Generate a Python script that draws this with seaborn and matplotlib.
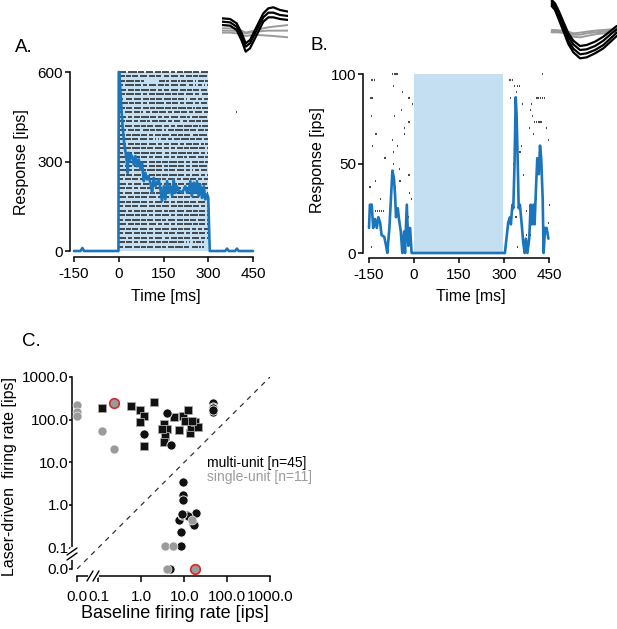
import matplotlib
matplotlib.use("Agg")
import matplotlib.pyplot as plt
from matplotlib.lines import Line2D
from matplotlib.ticker import NullLocator
import pandas as pd
import seaborn as sns

# ---------------- data ----------------
# Panel A: laser-driven unit, PSTH (ips) vs time (ms)
a_time = [-150, -128, -122, -116, -1, 0, 2, 6, 10, 13, 18, 23, 27, 30, 33, 36, 39, 45, 50, 56,
          61, 67, 73, 78, 84, 89, 95, 100, 106, 112, 117, 123, 128, 134, 140, 145, 151, 156, 162, 168,
          173, 179, 184, 190, 195, 201, 206, 212, 218, 223, 229, 234, 240, 245, 251, 257, 262, 268, 273, 279,
          285, 290, 296, 300, 305, 357, 363, 369, 390, 396, 402, 450]
a_rate = [0, 0, 10, 0, 0, 600, 600, 529, 460, 417, 362, 330, 300, 262, 329, 300, 323, 318, 290, 318,
          284, 307, 273, 295, 234, 262, 240, 251, 229, 195, 245, 217, 229, 240, 206, 167, 217, 173, 234, 195,
          217, 184, 240, 195, 217, 201, 201, 195, 206, 217, 195, 201, 234, 184, 229, 195, 234, 184, 223, 178,
          217, 173, 190, 180, 0, 0, 8, 0, 0, 8, 0, 0]
# raster of panel A: one string per trial, one character per 5 ms bin from 0 to 300 ms
a_raster = [
    "#####.######.####.#####.####.#####.###.####.#####.####.#####",
    "####.###.####.#####.####.###..####.#####.###.####.###.#####.",
    "####.#####.###.##..........####.##.####.#.###.####.#.####.##",
    "###.######.####.###.#####.####.###.#####.####..###.#.###.#.#",
    "#####.####.###.#####.####.###.####.#####.####.###.####.####.",
    "####.#####.####.###.####.#####.####.###.####.#####.###..####",
    "###..####.#####.####.###.####.#####.###.####.#..####.###.###",
    "######.###.####.###.####.#####..###.####.###.#####.###.####.",
    "####.####.#####.####.###.#####.####.###.#####.###.#.###.####",
    "###.#####.####.#..###.####.#####.###.####.####.###.#####.###",
    "#####.###.####.#####.####.###.####.#####.####.##.####.#####.",
    "####.####.###.####.##.####.#####.###.####..###.####.###.####",
    "###.#####.####.###.####.#####.####.###.####.#####.###.#.####",
    "#####.####.###..####.###.####.##.####.#####.###.####.####.##",
    "####.###.#####.####.###.####.#####.####.###.####..###.#####.",
    "###.####.####.#####.###.#.#.####.###.####.#####.###.####.###",
    "#####.####.###.####.#####.###.####.#####.###.####.####.##.##",
    "####.###.#####.###.####.#####.####.###.####.###.#####.####.#",
    "###.#####.####.#####.###.####..###.####.#####.###.####.###.#",
    "#####.###.####.####.###.#####.####.###.####.##.#####.####.##",
    "####.####.###.#####.####.###.####.#####.####.###.####.###.##",
    "###.#####.####..###.####.####.###.#####.####.###.####.#####.",
    "#####.###.####.###.#####.####.###.####.#####.###.#.###.####.",
    "####.####.#####.###.####.###.####.#####.####.###.#####.###.#",
    "###.####.####.###.#####.####.###.#####.###.####.####.###.###",
    "#####.###.#####.####.###.####.#####.###.####.#####.####.###.",
    "####.####.###.####.####.#####.###.####.###.#####.###.####.##",
    "###.#####.####.#####.###.####.####.###.#####.####.###.####.#",
    "#####.####.###.####.#####.###.####.####.###.####.#####.###.#",
    "####.###.#####.####.###.#####.####.###.####.###.####.#####.#",
    "###.####.####.#####.####.###.#####.####.###.#####.####.###.#",
    "#####.###.####.###.####.#####.###.####.#####.####.###.####.#",
    "####.#####.###.####.###.####.#####.###.####.###.#####.####.#",
    "###.####.#####.###.####.####.###.#####.####.###.####.#####.#",
    "#####.####.###.####.#####.###.####.###.####.#####.###.####.#",
    "####.###.####.#####.###.####.#####.####.###.####.###.###.###",
    "###.#####.####.###.####.#####.###.####.#####.###.####.####.#",
    "#####.###.####.####.###.#####..###.####.###.####.#####.###.#",
    "####.####.###.#####.####.###.####.#####.####.#.#..#.###.#...",
    "###.#####.####.###.####.####.###.####.#####.###..####.#.#...",
]
a_extra_spike_time = [-120, 363, 396]
a_extra_spike_trial = [27, 13, 9]

# Panel B: laser-suppressed unit
b_time = [-150, -147, -141, -136, -130, -124, -119, -113, -108, -99, -93, -89, -82, -77, -72, -67,
          -63, -60, -54, -50, -44, -39, -33, -30, -24, -19, -13, -8, -4, 0, 100, 200,
          303, 314, 320, 323, 328, 331, 335, 339, 342, 346, 349, 353, 359, 364, 369, 373,
          378, 384, 389, 393, 398, 402, 407, 411, 416, 420, 424, 429, 432, 437, 442, 448]
b_rate = [14, 27, 27, 14, 19, 14, 20, 17, 10, 9, 4, 0, 14, 30, 46, 42,
          32, 20, 25, 19, 12, 0, 12, 0, 27, 4, 14, 0, 0, 0, 0, 0,
          0, 17, 20, 16, 27, 25, 49, 87, 77, 49, 25, 27, 16, 6, 0, 8,
          0, 8, 27, 16, 27, 16, 38, 53, 44, 60, 53, 30, 0, 14, 14, 8]
b_spike_time = [-72, -66, -60, -54, 428,
                -143, -138, -133, 320, 328,
                -69, 336, 344, 352,
                -39, 342,
                -144, -140, -17, 322, 410, 416, 422, 428, 434,
                -4, 361, 392,
                -43, 389,
                -143, -66, 396,
                -17, 402, 408, 414, 420, 426,
                -32, 384, 442,
                -127, -32, 398,
                -72, 448,
                -139, -54, 357,
                -69, 353,
                -97, 418,
                -69, 331,
                -49,
                -17, 364,
                -128, -47,
                -147, -63, 331,
                -16,
                -113, -8, 409,
                451,
                -128, -122, -116, -108, -102, 376, 431,
                -19, 340,
                448,
                -30, 376, 387,
                -143, 346]
b_spike_trial = [0, 0, 0, 0, 0,
                 1, 1, 1, 1, 1,
                 2, 2, 2, 2,
                 3, 3,
                 4, 4, 4, 4, 4, 4, 4, 4, 4,
                 5, 5, 5,
                 6, 6,
                 7, 7, 7,
                 8, 8, 8, 8, 8, 8,
                 9, 9, 9,
                 10, 10, 10,
                 11, 11,
                 12, 12, 12,
                 13, 13,
                 14, 14,
                 15, 15,
                 16,
                 17, 17,
                 18, 18,
                 19, 19, 19,
                 20,
                 21, 21, 21,
                 22,
                 23, 23, 23, 23, 23, 23, 23,
                 24, 24,
                 25,
                 27, 27, 27,
                 29, 29]

# Panel C: baseline vs laser-driven firing rate (ips); 0.0 values sit on the broken-axis tick
c_sq_base = [0.12, 0.58, 0.95, 1.17, 0.95, 1.93, 1.17, 3.3, 4.0, 3.5, 3.3, 5.8, 7.4, 9.3, 12.2,
             13.3, 14.5, 17.4, 20.4, 3.1, 10.5, 15.5]
c_sq_laser = [183, 213, 167, 119, 88, 262, 24, 80, 59, 42, 30, 113, 57, 124, 168,
              50, 69, 87, 69, 60, 95, 95]
c_ci_base = [1.17, 4.0, 4.9, 48, 48, 48, 48, 9.6, 9.3, 9.3, 7.4, 8.8, 11.5, 13.3, 18.7, 16,
             8.5, 8.5, 4.7, 12.5, 16.5, 9.0, 46]
c_ci_laser = [45, 140, 25, 240, 200, 185, 155, 3.5, 1.7, 1.3, 0.45, 0.58, 0.58, 0.53, 0.66, 0.36,
              0.23, 0.11, 0.0, 0.55, 0.34, 0.6, 170]
c_su_base = [0.0, 0.0, 0.0, 0.12, 0.23, 0.23, 3.5, 5.6, 4.0, 15, 18]
c_su_laser = [215, 150, 120, 55, 20, 245, 0.11, 0.11, 0.0, 0.45, 0.0]
c_su_marked = [0, 0, 0, 0, 0, 1, 0, 0, 0, 0, 1]
c_ticks = [0.0, 0.1, 1.0, 10.0, 100.0, 1000.0]
c_ticklabels = ["0.0", "0.1", "1.0", "10.0", "100.0", "1000.0"]

# spike waveform insets (arbitrary units, y downward)
wa_t = [665, 690, 710, 725, 737, 750, 770, 790, 805, 820, 840, 865]
wa_black = [[55, 57, 70, 100, 130, 120, 80, 40, 25, 22, 30, 35],
            [65, 67, 80, 110, 140, 130, 90, 52, 38, 38, 45, 48],
            [75, 77, 90, 122, 155, 145, 105, 65, 52, 52, 57, 60]]
wa_gray = [[85, 85, 87, 92, 98, 95, 90, 85, 82, 80, 78, 75],
           [92, 92, 93, 96, 100, 98, 95, 93, 92, 92, 92, 92],
           [98, 98, 100, 104, 108, 106, 105, 106, 107, 108, 110, 112]]
wb_t = [755, 765, 775, 790, 805, 820, 840, 860, 885, 910, 935, 950]
wb_black = [[0, 10, 30, 65, 100, 122, 138, 135, 125, 110, 90, 78],
            [5, 18, 40, 75, 110, 133, 150, 148, 138, 122, 100, 88],
            [12, 25, 48, 85, 122, 146, 163, 160, 150, 135, 112, 98],
            [18, 30, 55, 93, 132, 157, 175, 172, 160, 145, 122, 108]]
wb_gray = [[90, 90, 91, 92, 95, 100, 98, 95, 92, 90, 88, 85],
           [97, 97, 97, 98, 100, 104, 104, 100, 97, 95, 92, 90],
           [95, 95, 96, 98, 103, 110, 112, 108, 103, 100, 97, 95]]

# ---------------- style ----------------
sns.set_theme(style="ticks", rc={
    "axes.edgecolor": "black", "xtick.color": "black", "ytick.color": "black",
    "text.color": "black", "axes.labelcolor": "black", "axes.unicode_minus": False,
})
plt.rcParams['font.family'] = ['Liberation Sans', 'DejaVu Sans']

W, H = 617, 629
fig = plt.figure(figsize=(W / 100, H / 100), dpi=100)
BLUE = '#1b75bb'
SHADE = '#c4dff1'
GRAY = '#9b9b9b'


def px_axes(l, t, r, b):
    return fig.add_axes([l / W, 1 - b / H, (r - l) / W, (b - t) / H])


def ftext(x, y, s, **kw):
    fig.text(x / W, 1 - y / H, s, **kw)


def fline(x0, y0, x1, y1, **kw):
    fig.add_artist(Line2D([x0 / W, x1 / W], [1 - y0 / H, 1 - y1 / H],
                          transform=fig.transFigure, **kw))


def style_axes(ax, off_left, off_bottom):
    sns.despine(ax=ax)
    ax.spines['left'].set_position(('outward', off_left))
    ax.spines['bottom'].set_position(('outward', off_bottom))
    for sp in ('left', 'bottom'):
        ax.spines[sp].set_linewidth(1.1)
    ax.set_facecolor('none')


# ---------------- panel A ----------------
axA = px_axes(74, 72, 253, 251)
axA.axvspan(0, 300, color=SHADE, lw=0, zorder=0)
ys, x0s, x1s = [], [], []
for i, row in enumerate(a_raster):
    y = 600 - i * 15
    j = 0
    while j < len(row):
        if row[j] == '#':
            k = j
            while k < len(row) and row[k] == '#':
                k += 1
            ys.append(y); x0s.append(j * 5); x1s.append(k * 5)
            j = k
        else:
            j += 1
for t, tr in zip(a_extra_spike_time, a_extra_spike_trial):
    ys.append(600 - tr * 15); x0s.append(t - 1.5); x1s.append(t + 1.5)
axA.hlines(ys, x0s, x1s, color='#262626', lw=1.15, zorder=1, clip_on=False)
sns.lineplot(x=a_time, y=a_rate, ax=axA, color=BLUE, lw=1.9, zorder=3, clip_on=False)
axA.set_xlim(-150, 450)
axA.set_ylim(0, 600)
axA.set_xticks([-150, 0, 150, 300, 450], ['-150', '0', '150', '300', '450'])
axA.set_yticks([0, 300, 600], ['0', '300', '600'])
axA.tick_params(axis='both', length=3.5, width=1.1, labelsize=11)
axA.tick_params(axis='x', pad=3.5)
axA.tick_params(axis='y', pad=1.5)
axA.set_xlabel(''); axA.set_ylabel('')
style_axes(axA, 3, 4.3)
ftext(22, 162, 'Response [ips]', rotation=90, ha='center', va='center', fontsize=11.5)
ftext(166, 297, 'Time [ms]', ha='center', va='center', fontsize=11.5)
ftext(15, 47, 'A.', ha='left', va='center', fontsize=13.5)

# ---------------- panel B ----------------
axB = px_axes(369, 74, 549, 253)
axB.axvspan(0, 297, color=SHADE, lw=0, zorder=0)
by = [100 - tr * 100 / 30 for tr in b_spike_trial]
axB.hlines(by, [t - 2 for t in b_spike_time], [t + 2 for t in b_spike_time],
           color='#4a4a4a', lw=1.5, zorder=1, clip_on=False)
sns.lineplot(x=b_time, y=b_rate, ax=axB, color=BLUE, lw=1.9, zorder=3, clip_on=False)
axB.set_xlim(-150, 450)
axB.set_ylim(0, 100)
axB.set_xticks([-150, 0, 150, 300, 450], ['-150', '0', '150', '300', '450'])
axB.set_yticks([0, 50, 100], ['0', '50', '100'])
axB.tick_params(axis='both', length=3.5, width=1.1, labelsize=11)
axB.tick_params(axis='x', pad=3.5)
axB.tick_params(axis='y', pad=1.5)
axB.set_xlabel(''); axB.set_ylabel('')
style_axes(axB, 4.3, 3.6)
ftext(318, 160, 'Response [ips]', rotation=90, ha='center', va='center', fontsize=11.5)
ftext(471, 297, 'Time [ms]', ha='center', va='center', fontsize=11.5)
ftext(310, 46, 'B.', ha='left', va='center', fontsize=13.5)

# ---------------- panel C ----------------
ZERO = 10 ** -1.5


def on_axis(vals):
    return [ZERO if v == 0 else v for v in vals]


axC = px_axes(77, 377, 270, 569)
axC.plot([ZERO, 1000], [ZERO, 1000], ls=(0, (4, 4)), color='#333333', lw=0.9, zorder=1)
df_sq = pd.DataFrame({'x': on_axis(c_sq_base), 'y': on_axis(c_sq_laser)})
df_ci = pd.DataFrame({'x': on_axis(c_ci_base), 'y': on_axis(c_ci_laser)})
df_su = pd.DataFrame({'x': on_axis(c_su_base), 'y': on_axis(c_su_laser), 'm': c_su_marked})
sns.scatterplot(data=df_sq, x='x', y='y', marker='s', s=38, color='#111111',
                edgecolor='#a8a8a8', linewidth=0.6, ax=axC, zorder=3, clip_on=False, legend=False)
sns.scatterplot(data=df_ci, x='x', y='y', marker='o', s=44, color='#111111',
                edgecolor='white', linewidth=0.6, ax=axC, zorder=4, clip_on=False, legend=False)
sns.scatterplot(data=df_su[df_su.m == 0], x='x', y='y', marker='o', s=42, color=GRAY,
                edgecolor='white', linewidth=0.4, ax=axC, zorder=5, clip_on=False, legend=False)
sns.scatterplot(data=df_su[df_su.m == 1], x='x', y='y', marker='o', s=48, color=GRAY,
                edgecolor='#d22b2b', linewidth=1.2, ax=axC, zorder=6, clip_on=False, legend=False)
axC.set_xscale('log'); axC.set_yscale('log')
axC.set_xlim(ZERO, 1000); axC.set_ylim(ZERO, 1000)
axC.set_xticks(on_axis(c_ticks), c_ticklabels)
axC.set_yticks(on_axis(c_ticks), c_ticklabels)
axC.xaxis.set_minor_locator(NullLocator()); axC.yaxis.set_minor_locator(NullLocator())
axC.tick_params(axis='both', width=1.1, labelsize=11)
axC.tick_params(axis='x', length=4, pad=6)
axC.tick_params(axis='y', length=2, pad=0.5)
axC.set_xlabel(''); axC.set_ylabel('')
style_axes(axC, 3.6, 5)
axC.text(0.674, 0.552, 'multi-unit [n=45]', transform=axC.transAxes, fontsize=10,
         ha='left', va='center', color='black')
axC.text(0.674, 0.479, 'single-unit [n=11]', transform=axC.transAxes, fontsize=10,
         ha='left', va='center', color=GRAY)
ftext(10, 476, 'Laser-driven  firing rate [ips]', rotation=90, ha='center', va='center', fontsize=11.5)
ftext(175, 613, 'Baseline firing rate [ips]', ha='center', va='center', fontsize=13)
ftext(22, 342, 'C.', ha='left', va='center', fontsize=13.5)
# axis breaks
fline(72, 549, 72, 558, color='white', lw=3)
fline(67, 555, 77, 548, color='black', lw=1.0)
fline(67, 560, 77, 553, color='black', lw=1.0)
fline(90, 576, 97, 576, color='white', lw=3)
fline(87, 581, 93, 571, color='black', lw=1.0)
fline(93, 581, 99, 571, color='black', lw=1.0)

# ---------------- waveform insets ----------------
insA = px_axes(221.7, 0, 288.3, 53.3)
for w in wa_gray:
    sns.lineplot(x=wa_t, y=w, ax=insA, color=GRAY, lw=1.4)
for w in wa_black:
    sns.lineplot(x=wa_t, y=w, ax=insA, color='black', lw=1.6)
insA.set_xlim(665, 865); insA.set_ylim(160, 0)
insA.axis('off')

insB = px_axes(550, 0, 616.7, 60)
for w in wb_gray:
    sns.lineplot(x=wb_t, y=w, ax=insB, color=GRAY, lw=1.4)
for w in wb_black:
    sns.lineplot(x=wb_t, y=w, ax=insB, color='black', lw=1.6)
insB.set_xlim(750, 950); insB.set_ylim(180, 0)
insB.axis('off')

fig.savefig('out.png', dpi=100)
